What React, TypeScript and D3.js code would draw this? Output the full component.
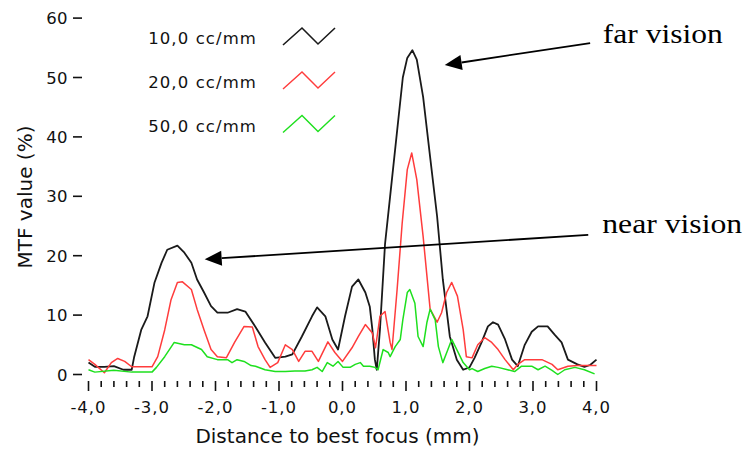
import React from "react";
import * as d3 from "d3";

// ---- data ----
const SERIES_NAMES = ["10,0 cc/mm", "20,0 cc/mm", "50,0 cc/mm"];
const SERIES_COLORS = ["#1a1a1a", "#ff3c3c", "#1ee01e"];

const mtf10: [number, number][] = [
  [-4.0, 2.0], [-3.9, 1.3], [-3.75, 1.3], [-3.6, 1.4], [-3.45, 0.8], [-3.32, 0.8], [-3.28, 3.0],
  [-3.17, 7.5], [-3.07, 9.8], [-2.96, 15.5], [-2.85, 18.8], [-2.76, 21], [-2.6, 21.7], [-2.49, 20.5],
  [-2.38, 18.8], [-2.29, 16], [-2.18, 13.8], [-2.07, 11.5], [-1.97, 10.4], [-1.81, 10.4], [-1.66, 11],
  [-1.53, 10.6], [-1.37, 8], [-1.22, 5.4], [-1.06, 2.8], [-0.9, 3], [-0.79, 3.4], [-0.64, 6.4],
  [-0.48, 9.8], [-0.4, 11.3], [-0.27, 9.8], [-0.16, 5.9], [-0.07, 4.2], [0.04, 9.8], [0.15, 14.8],
  [0.25, 16], [0.36, 13.8], [0.43, 11.4], [0.47, 7.6], [0.51, 2.5], [0.54, 0.8], [0.59, 7.6],
  [0.67, 22], [0.75, 30], [0.86, 41], [0.95, 50], [1.02, 53.3], [1.1, 54.6], [1.17, 53], [1.27, 46.7],
  [1.38, 36.6], [1.49, 26.6], [1.58, 16], [1.69, 6.4], [1.8, 2.5], [1.9, 0.8], [2.0, 1.2],
  [2.08, 2.8], [2.19, 5.4], [2.29, 8.1], [2.37, 8.8], [2.45, 8.4], [2.56, 5.9], [2.67, 2.5],
  [2.76, 1.4], [2.87, 5], [2.98, 7.2], [3.08, 8.1], [3.23, 8.1], [3.34, 6.7], [3.45, 5.4],
  [3.55, 2.5], [3.7, 1.7], [3.81, 1.3], [3.9, 1.6], [4.0, 2.5],
];

const mtf20: [number, number][] = [
  [-4.0, 2.5], [-3.9, 1.7], [-3.75, 0.3], [-3.64, 2], [-3.54, 2.7], [-3.43, 2.2], [-3.32, 1.3],
  [-3.0, 1.3], [-2.91, 3], [-2.8, 7.5], [-2.7, 12.6], [-2.6, 15.5], [-2.52, 15.6], [-2.38, 14.3],
  [-2.29, 11], [-2.18, 7.5], [-2.07, 4.2], [-1.97, 3], [-1.83, 2.8], [-1.7, 5.4], [-1.55, 8.1],
  [-1.42, 8], [-1.33, 4.7], [-1.22, 2.5], [-1.14, 1.2], [-1.02, 2], [-0.9, 5], [-0.79, 4.2],
  [-0.69, 2.2], [-0.59, 3.9], [-0.48, 3.9], [-0.38, 2.2], [-0.23, 5.5], [-0.12, 3.7], [0.0, 2.2],
  [0.15, 4.5], [0.25, 6.4], [0.36, 8.4], [0.47, 7.0], [0.52, 4.5], [0.59, 9.8], [0.67, 10.6],
  [0.75, 5.4], [0.78, 4.2], [0.86, 14.3], [0.94, 25.5], [1.02, 34.5], [1.09, 37.3], [1.17, 32.8],
  [1.27, 23.2], [1.38, 11], [1.49, 8.8], [1.56, 10.4], [1.64, 13.8], [1.72, 15.5], [1.81, 13.2],
  [1.9, 7.6], [1.95, 3], [2.04, 2.8], [2.13, 5], [2.24, 6.2], [2.35, 5.4], [2.45, 4.2],
  [2.56, 2.5], [2.69, 0.8], [2.76, 1.7], [2.87, 2.5], [3.14, 2.5], [3.3, 1.7], [3.39, 0.8],
  [3.55, 1.4], [3.7, 1.5], [4.0, 1.5],
];

const mtf50: [number, number][] = [
  [-4.0, 0.8], [-3.9, 0.4], [-3.6, 0.7], [-3.32, 0.4], [-3.0, 0.4], [-2.93, 1.2], [-2.8, 3],
  [-2.65, 5.4], [-2.49, 5], [-2.38, 5], [-2.22, 4.2], [-2.13, 3], [-1.97, 2.5], [-1.81, 2.5],
  [-1.74, 2], [-1.66, 2.5], [-1.55, 2.2], [-1.44, 1.5], [-1.37, 1.4], [-1.22, 0.8], [-1.06, 0.5],
  [-0.9, 0.5], [-0.75, 0.6], [-0.59, 0.6], [-0.48, 0.8], [-0.4, 1.2], [-0.32, 0.5], [-0.24, 2],
  [-0.15, 1.4], [-0.07, 2.2], [0.01, 1.2], [0.12, 1.2], [0.2, 1.7], [0.28, 2], [0.33, 1.4],
  [0.43, 1.4], [0.51, 1.2], [0.56, 0.8], [0.64, 4.2], [0.72, 3.7], [0.75, 3], [0.83, 4.7],
  [0.91, 5.9], [0.95, 9.2], [1.02, 13.8], [1.06, 14.3], [1.14, 12], [1.19, 6.4], [1.27, 4.7],
  [1.33, 8.8], [1.38, 11], [1.46, 9.2], [1.51, 4.7], [1.58, 2], [1.66, 4.2], [1.72, 5.9],
  [1.8, 4.2], [1.9, 2], [2.0, 0.8], [2.04, 1], [2.13, 0.5], [2.24, 1], [2.35, 1.4], [2.45, 1.2],
  [2.6, 0.8], [2.71, 0.5], [2.82, 1.4], [2.98, 1.4], [3.08, 0.8], [3.19, 1.4], [3.3, 0.7],
  [3.39, 0], [3.5, 0.8], [3.66, 1.2], [3.81, 0.8], [3.97, 0.1],
];

const Y_TICKS = [0, 10, 20, 30, 40, 50, 60];
const X_MAJOR_TICKS = [-4, -3, -2, -1, 0, 1, 2, 3, 4];

const X_TITLE = "Distance to best focus (mm)";
const Y_TITLE = "MTF value (%)";

// annotations in data coordinates: label, text anchor point, arrow start, arrow tip
const ANNOTATIONS = [
  { label: "far vision", text: [4.1, 55.8], from: [3.9, 55.8], to: [1.61, 52.1], width: 120 },
  { label: "near vision", text: [4.09, 23.8], from: [3.87, 23.5], to: [-2.17, 19.4], width: 140 },
];

export default function App() {
  const W = 746;
  const H = 451;
  const x = d3.scaleLinear().domain([-4, 4]).range([88.5, 596.5]);
  const y = d3.scaleLinear().domain([0, 60]).range([374.5, 18.1]);

  const line = d3
    .line<[number, number]>()
    .x((d) => x(d[0]))
    .y((d) => y(d[1]));

  const series = [mtf10, mtf20, mtf50];
  const minorTicks = x.ticks(40);
  const fmt = (v: number) => d3.format(".1f")(v).replace(".", ",").replace("−", "-");

  const sans = "'DejaVu Sans', Verdana, sans-serif";
  const serif = "'Liberation Serif', 'Times New Roman', serif";

  const legendBaselines = [44, 88, 131.5];

  return (
    <svg
      width={W}
      height={H}
      viewBox={`0 0 ${W} ${H}`}
      style={{ position: "absolute", left: 0, top: 0, display: "block", background: "#fff" }}
    >
      {/* y ticks */}
      {Y_TICKS.map((t) => (
        <g key={"y" + t}>
          <line x1={73} x2={82} y1={y(t)} y2={y(t)} stroke="#111" strokeWidth={1.6} />
          <text
            x={68}
            y={y(t) + 6}
            textAnchor="end"
            fontFamily={sans}
            fontSize={16.5}
            letterSpacing={0.4}
            fill="#111"
          >
            {t}
          </text>
        </g>
      ))}

      {/* x ticks */}
      {minorTicks.map((t, i) => {
        const major = Math.abs(t - Math.round(t)) < 1e-6;
        return (
          <line
            key={"xt" + i}
            x1={x(t)}
            x2={x(t)}
            y1={381}
            y2={major ? 391 : 387}
            stroke="#111"
            strokeWidth={1.6}
          />
        );
      })}
      {X_MAJOR_TICKS.map((t) => (
        <text
          key={"xl" + t}
          x={x(t)}
          y={413}
          textAnchor="middle"
          fontFamily={sans}
          fontSize={16.5}
          letterSpacing={1}
          fill="#111"
        >
          {fmt(t)}
        </text>
      ))}

      {/* axis titles */}
      <text x={337.5} y={443} textAnchor="middle" fontFamily={sans} fontSize={20} fill="#111">
        {X_TITLE}
      </text>
      <text
        transform={`translate(32,197) rotate(-90)`}
        textAnchor="middle"
        fontFamily={sans}
        fontSize={20}
        fill="#111"
      >
        {Y_TITLE}
      </text>

      {/* series */}
      {series.map((s, i) => (
        <path
          key={"s" + i}
          d={line(s) || ""}
          fill="none"
          stroke={SERIES_COLORS[i]}
          strokeWidth={i === 0 ? 1.8 : 1.5}
          strokeLinejoin="round"
        />
      ))}

      {/* legend */}
      {SERIES_NAMES.map((name, i) => {
        const b = legendBaselines[i];
        const pts: [number, number][] = [
          [283, b + 1],
          [302, b - 16],
          [318, b],
          [335, b - 16],
        ];
        return (
          <g key={"lg" + i}>
            <text
              x={257}
              y={b}
              textAnchor="end"
              fontFamily={sans}
              fontSize={16.5}
              letterSpacing={1.1}
              fill="#111"
            >
              {name}
            </text>
            <path
              d={d3.line()(pts) || ""}
              fill="none"
              stroke={SERIES_COLORS[i]}
              strokeWidth={i === 0 ? 1.6 : 1.4}
            />
          </g>
        );
      })}

      {/* annotations */}
      {ANNOTATIONS.map((a, i) => {
        const x1 = x(a.from[0]);
        const y1 = y(a.from[1]);
        const x2 = x(a.to[0]);
        const y2 = y(a.to[1]);
        const ang = Math.atan2(y2 - y1, x2 - x1);
        const len = 17;
        const hw = 7.5;
        const bx = x2 - len * Math.cos(ang);
        const by = y2 - len * Math.sin(ang);
        const px = -Math.sin(ang) * hw;
        const py = Math.cos(ang) * hw;
        return (
          <g key={"an" + i}>
            <line x1={x1} y1={y1} x2={bx} y2={by} stroke="#000" strokeWidth={1.8} />
            <polygon
              points={`${x2},${y2} ${bx + px},${by + py} ${bx - px},${by - py}`}
              fill="#000"
            />
            <text
              x={x(a.text[0])}
              y={y(a.text[1])}
              fontFamily={serif}
              fontSize={28}
              textLength={a.width}
              lengthAdjust="spacingAndGlyphs"
              fill="#000"
            >
              {a.label}
            </text>
          </g>
        );
      })}
    </svg>
  );
}
